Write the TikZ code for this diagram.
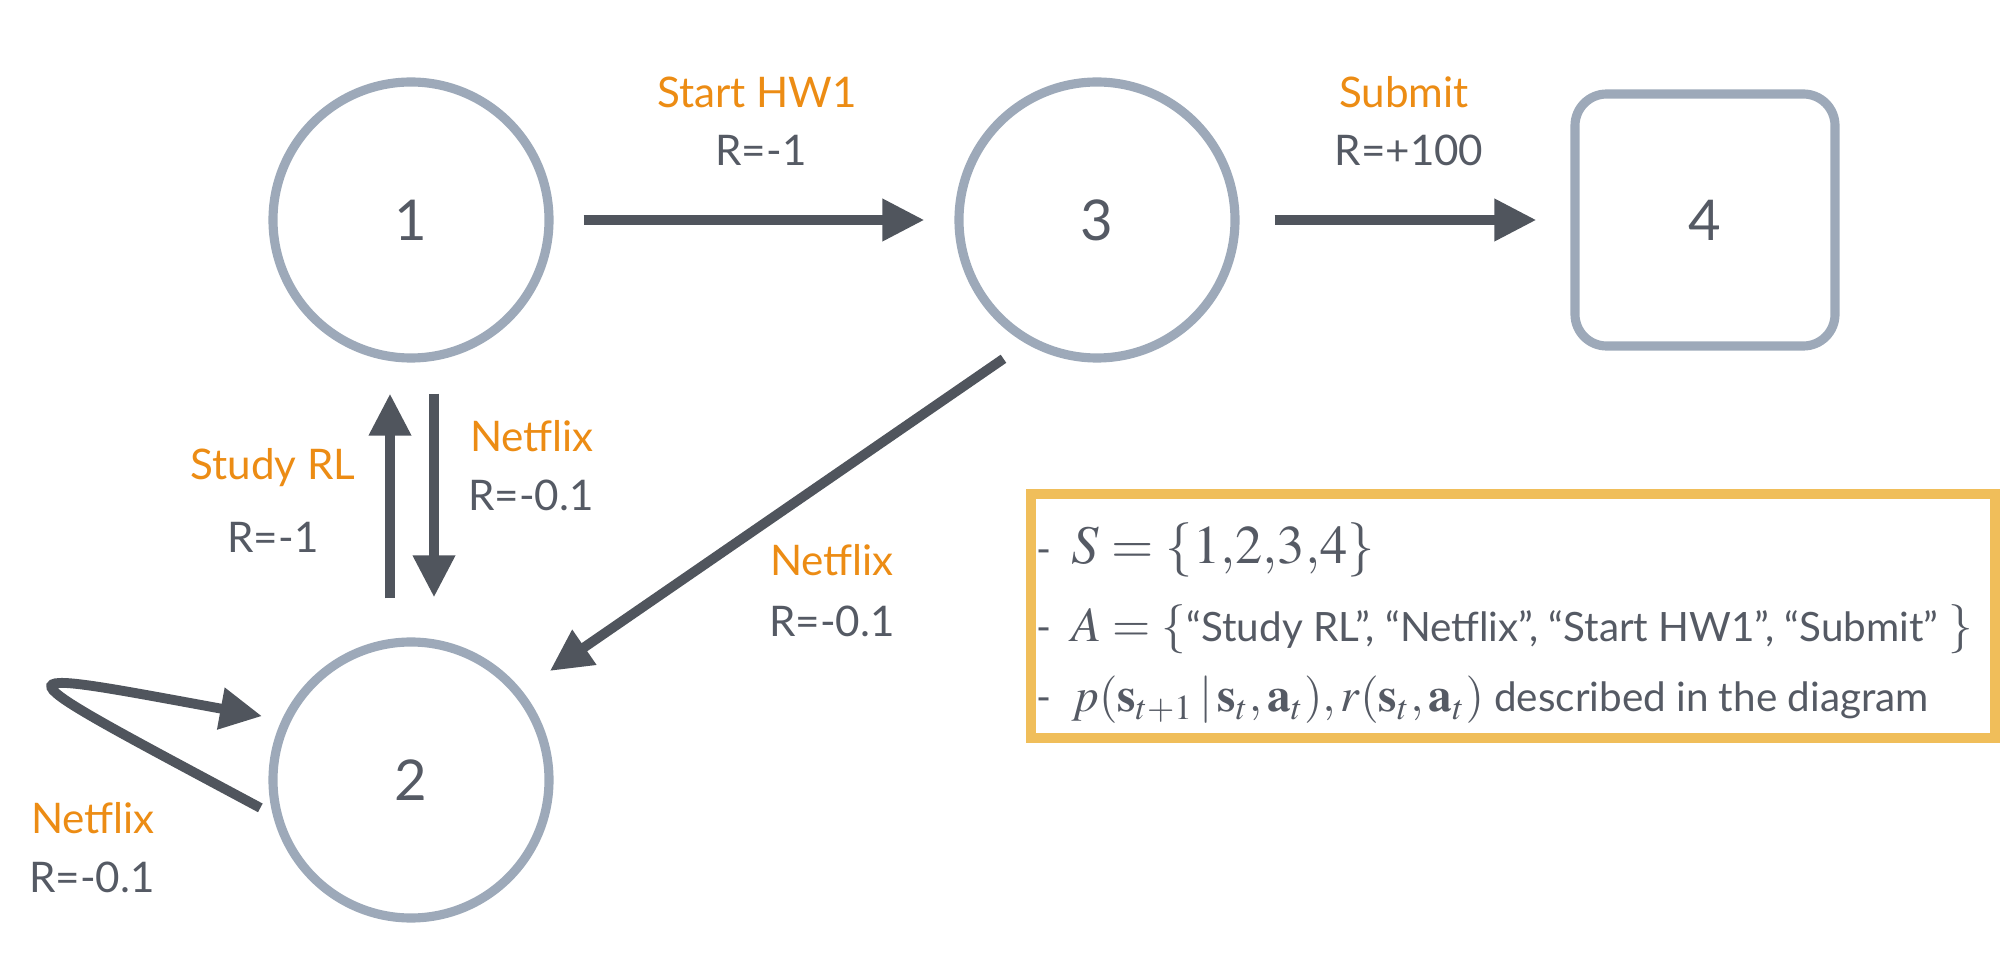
\documentclass[tikz,border=0pt]{standalone}
\usepackage{mathptmx}
\usepackage[no-math]{fontspec}
\setmainfont{Lato}
\usepackage{tikz}
\usetikzlibrary{arrows.meta,positioning}
\definecolor{myorange}{RGB}{236,140,20}
\definecolor{mygray}{RGB}{85,90,100}
\definecolor{mystate}{RGB}{157,169,185}
\definecolor{myarrow}{RGB}{80,85,93}
\definecolor{mygold}{RGB}{240,190,90}
\newcommand{\bigmath}[2][14]{{\fontsize{#1}{16}\selectfont$#2$}}
\tikzset{
  statenode/.style={circle,draw=mystate,line width=2.6pt,minimum size=2.76cm,
    inner sep=0pt,text=mygray,font=\fontsize{16}{18}\selectfont},
  goalnode/.style={rectangle,rounded corners=9pt,draw=mystate,line width=2.6pt,
    minimum width=2.6cm,minimum height=2.52cm,text=mygray,font=\fontsize{16}{18}\selectfont},
  act/.style={anchor=base,inner sep=0pt,text=myorange,font=\fontsize{12}{14}\selectfont},
  rew/.style={anchor=base,inner sep=0pt,text=mygray,font=\fontsize{12}{14}\selectfont},
  move/.style={draw=myarrow,line width=2.8pt,-{Triangle[length=0.42cm,width=0.4cm]}},
  defline/.style={anchor=base west,inner sep=0pt,text=mygray,font=\fontsize{11.5}{14}\selectfont},
}

\begin{document}
\begin{tikzpicture}
  \useasboundingbox (0,0) rectangle (20,-9.56);
  % states
  \node[statenode] (s1) at (4.11,-2.2) {1};
  \node[statenode] (s3) at (10.97,-2.2) {3};
  \node[goalnode] (s4) at (17.05,-2.2) {4};
  \node[statenode] (s2) at (4.11,-7.8) {2};
  % transitions
  \draw[move,shorten <=0.3cm,shorten >=0.3cm] (s1) -- (s3);
  \draw[move,shorten <=0.35cm,shorten >=0.34cm] (s3) -- (s4);
  \draw[move,shorten <=0.39cm,shorten >=0.31cm]
    ([xshift=-0.21cm]s2.north) -- ([xshift=-0.21cm]s1.south);
  \draw[move,shorten <=0.31cm,shorten >=0.4cm]
    ([xshift=0.23cm]s1.south) -- ([xshift=0.23cm]s2.north);
  \draw[move,shorten <=0.27cm,shorten >=0.34cm] (s3.240) -- (s2.39);
  \draw[move,shorten <=0.14cm,shorten >=0.2cm]
    (s2.194) .. controls (-0.12,-6.62) and (-0.12,-6.66) .. (s2.155);
  % labels
  \node[act] (a13) at (7.57,-1.08) {Start HW1};
  \node[rew] (r13) at (7.61,-1.66) {R=-1};
  \node[act] (a34) at (14.04,-1.08) {Submit};
  \node[rew] (r34) at (14.09,-1.66) {R=+100};
  \node[act] (a21) at (2.73,-4.80) {Study RL};
  \node[rew] (r21) at (2.73,-5.52) {R=-1};
  \node[act] (a12) at (5.32,-4.52) {Netflix};
  \node[rew] (r12) at (5.31,-5.11) {R=-0.1};
  \node[act] (a32) at (8.32,-5.76) {Netflix};
  \node[rew] (r32) at (8.32,-6.37) {R=-0.1};
  \node[act] (a22) at (0.93,-8.33) {Netflix};
  \node[rew] (r22) at (0.92,-8.92) {R=-0.1};
  % definitions box
  \draw[draw=mygold,line width=2.8pt] (10.31,-4.94) rectangle (19.95,-7.38);
  \node[defline] (dS) at (10.36,-5.64) {-\hspace{0.2cm}\bigmath[15.5]{S = \{1{,}2{,}3{,}4\}}};
  \node[defline] (dA) at (10.36,-6.42)
    {-\hspace{0.2cm}\bigmath{A = \{}``Study RL'', ``Netflix'', ``Start HW1'', ``Submit''\ \bigmath{\}}};
  \node[defline] (dP) at (10.36,-7.12)
    {-\hspace{0.2cm}\bigmath[13.5]{p(\mathbf{s}_{t+1}\,|\,\mathbf{s}_t,\mathbf{a}_t), r(\mathbf{s}_t,\mathbf{a}_t)} described in the diagram};
\end{tikzpicture}
\end{document}
